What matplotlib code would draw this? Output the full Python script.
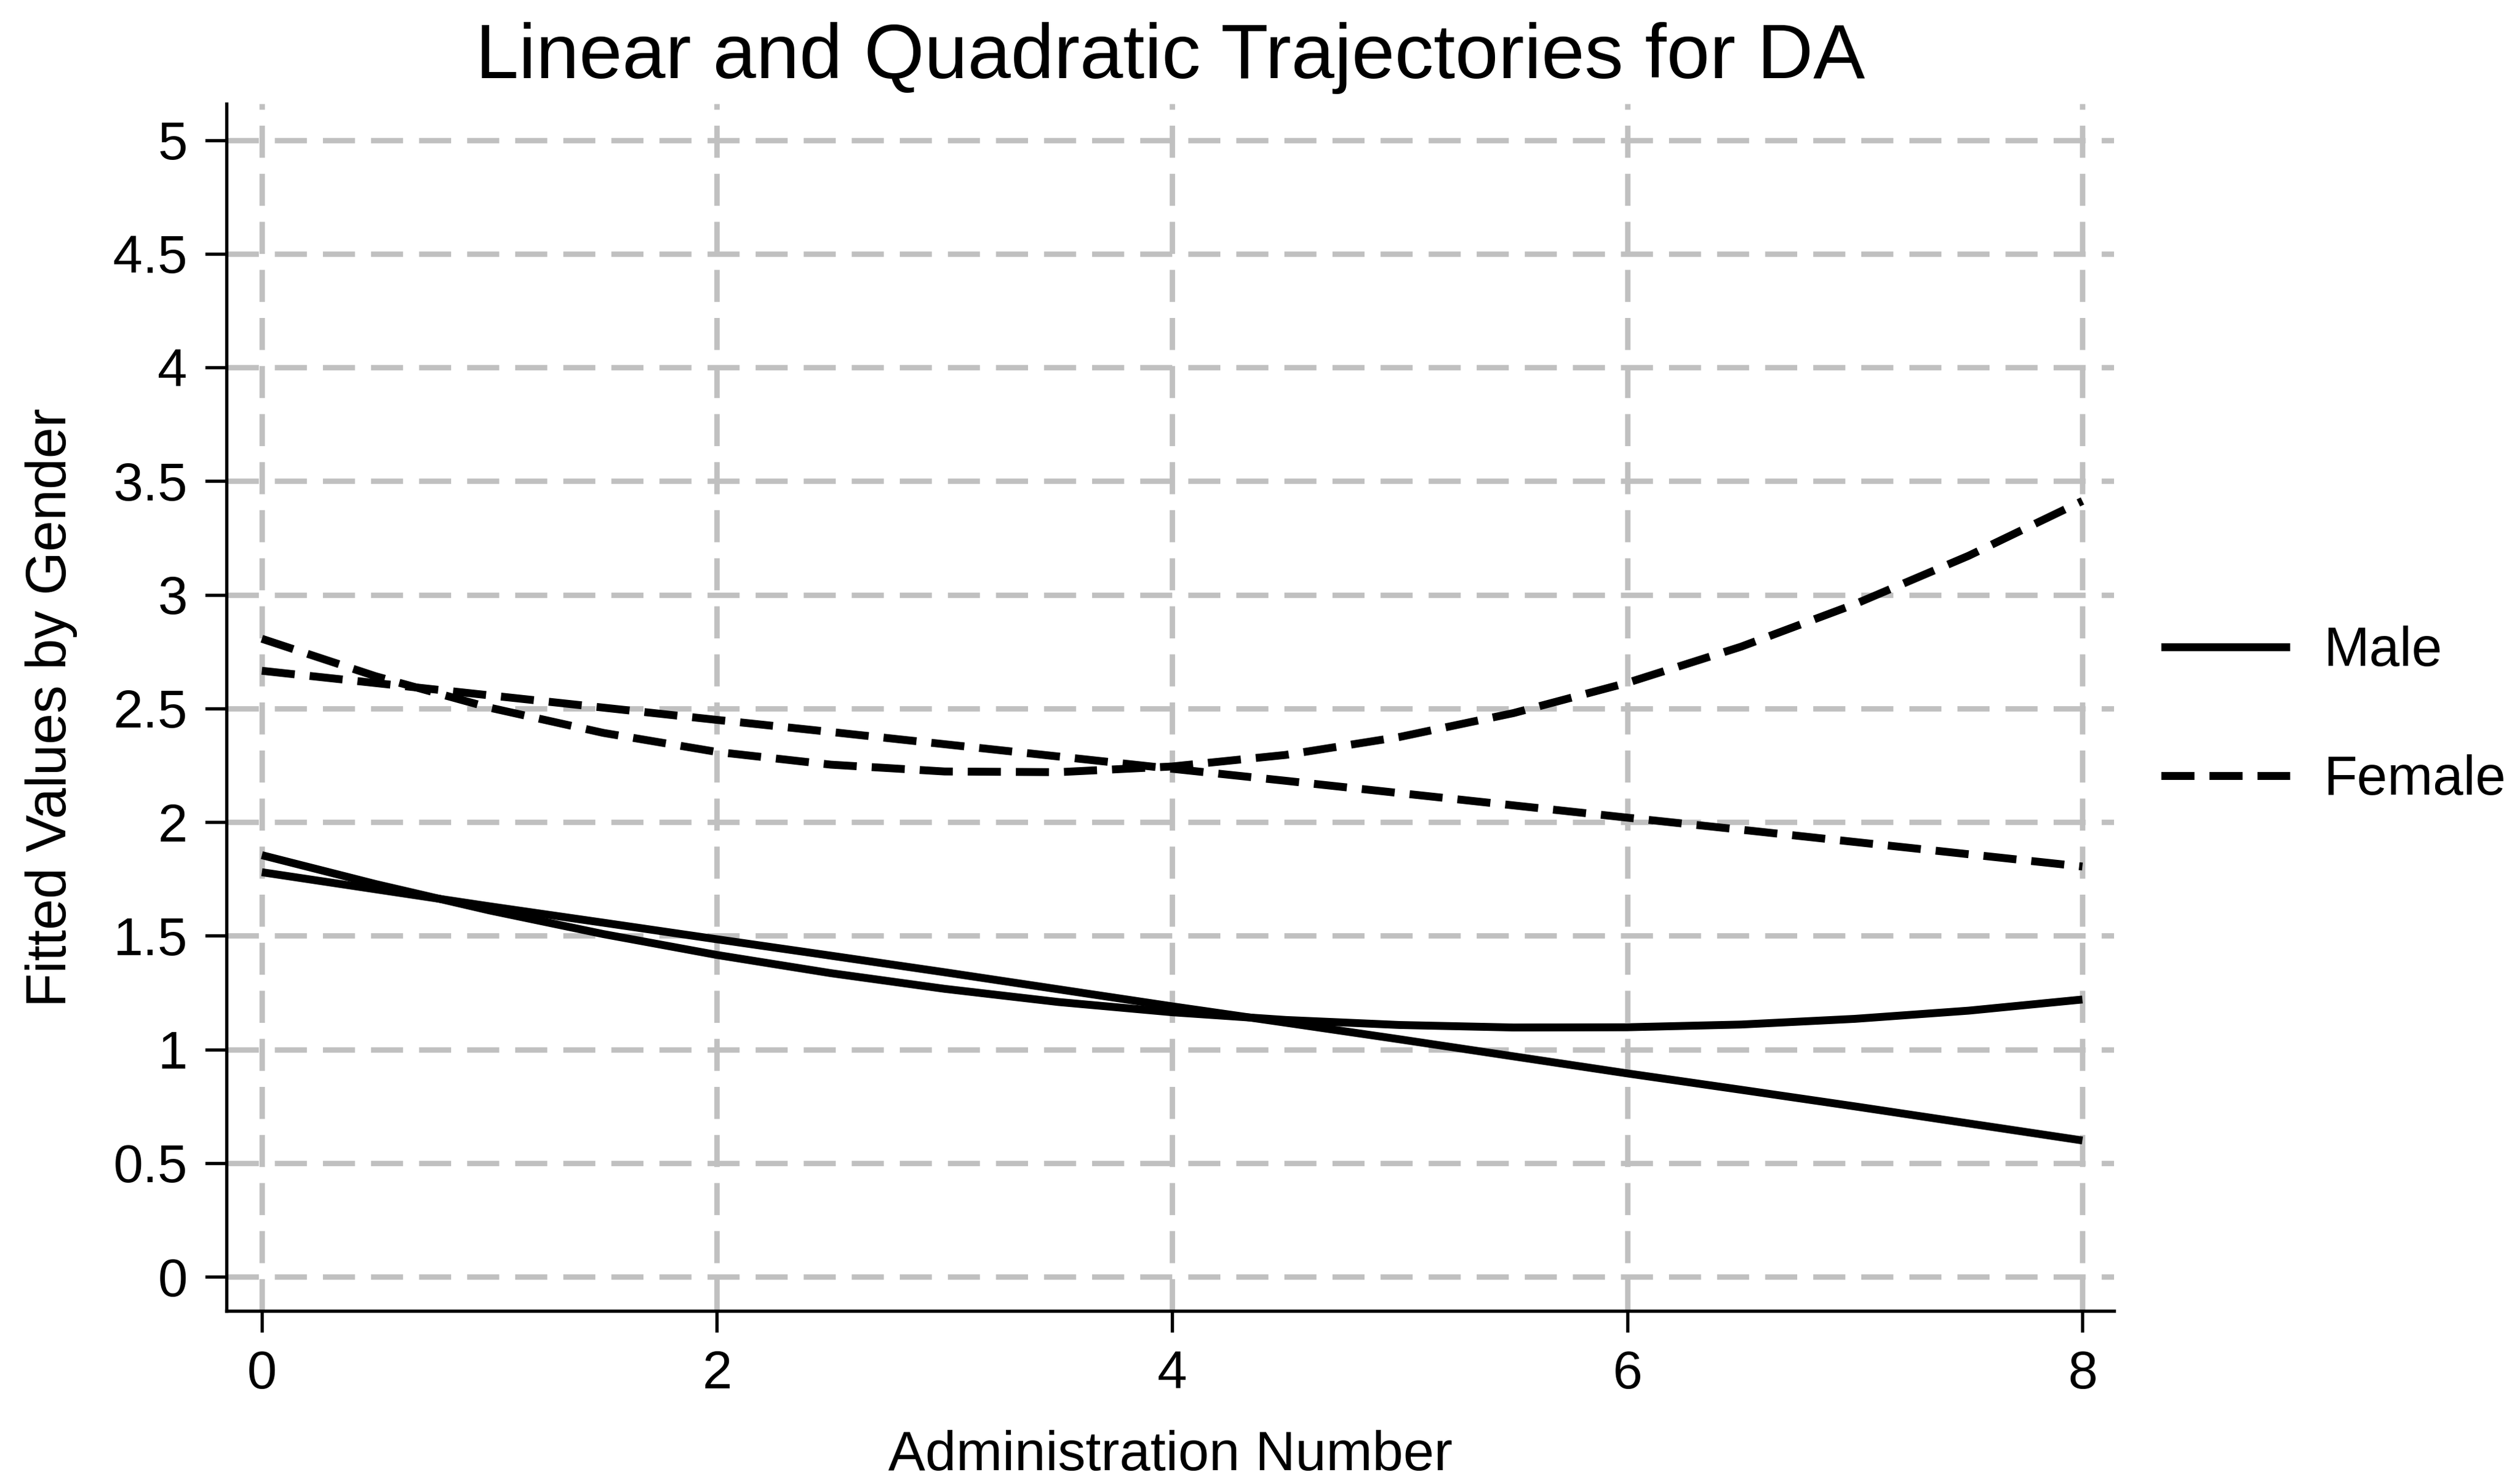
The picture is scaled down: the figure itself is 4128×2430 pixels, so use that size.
import matplotlib
matplotlib.use("Agg")
import matplotlib.pyplot as plt
from matplotlib.lines import Line2D

plt.rcParams['font.family'] = ['Liberation Sans', 'DejaVu Sans']

# Administration number (x) and fitted values
admin = [0, 0.5, 1, 1.5, 2, 2.5, 3, 3.5, 4, 4.5, 5, 5.5, 6, 6.5, 7, 7.5, 8]

male_linear = [1.78, 1.705, 1.63, 1.558, 1.485, 1.413, 1.34, 1.265, 1.19,
               1.118, 1.045, 0.97, 0.895, 0.823, 0.75, 0.675, 0.60]
male_quad = [1.855, 1.728, 1.612, 1.508, 1.416, 1.336, 1.267, 1.209, 1.164,
             1.130, 1.108, 1.097, 1.098, 1.110, 1.135, 1.171, 1.22]
female_linear = [2.666, 2.612, 2.558, 2.504, 2.45, 2.397, 2.343, 2.289, 2.235,
                 2.182, 2.128, 2.074, 2.02, 1.967, 1.913, 1.859, 1.805]
female_quad = [2.807, 2.642, 2.504, 2.393, 2.309, 2.253, 2.223, 2.220, 2.245,
               2.296, 2.375, 2.480, 2.613, 2.772, 2.959, 3.172, 3.413]

xticks = [0, 2, 4, 6, 8]
yticks = [0, 0.5, 1, 1.5, 2, 2.5, 3, 3.5, 4, 4.5, 5]
ytick_labels = ['0', '0.5', '1', '1.5', '2', '2.5', '3', '3.5', '4', '4.5', '5']
series_labels = ['Male', 'Female']

fig = plt.figure(figsize=(13.76, 8.10), dpi=300)
ax = fig.add_axes([0.0899, 0.116, 0.839 - 0.0899, 0.930 - 0.116])

lw = 3.1
female_dash = (4.2, 1.9)
ax.plot(admin, male_linear, color='black', lw=lw, solid_capstyle='butt', zorder=3)
ax.plot(admin, male_quad, color='black', lw=lw, solid_capstyle='butt', zorder=3)
ax.plot(admin, female_linear, color='black', lw=lw, linestyle=(0, female_dash),
        dash_capstyle='butt', zorder=3)
ax.plot(admin, female_quad, color='black', lw=lw, linestyle=(0, female_dash),
        dash_capstyle='butt', zorder=3)

ax.set_xlim(-0.155, 8.14)
ax.set_ylim(-0.15, 5.16)
ax.set_xticks(xticks)
ax.set_yticks(yticks)
ax.set_yticklabels(ytick_labels)

ax.grid(True, color='#c0c0c0', lw=2.1, linestyle=(0, (6.0, 3.0)), dash_capstyle='butt')
ax.set_axisbelow(True)

for s in ['top', 'right']:
    ax.spines[s].set_visible(False)
for s in ['left', 'bottom']:
    ax.spines[s].set_linewidth(1.3)
    ax.spines[s].set_color('black')

ax.tick_params(axis='both', direction='out', length=8.4, width=1.3, colors='black',
               labelsize=21, pad=7)

ax.set_xlabel('Administration Number', fontsize=21.8, labelpad=12)
ax.set_ylabel('Fitted Values by Gender', fontsize=22, labelpad=14)
ax.set_title('Linear and Quadratic Trajectories for DA', fontsize=30.5, pad=10)

handles = [Line2D([0], [0], color='black', lw=lw, solid_capstyle='butt'),
           Line2D([0], [0], color='black', lw=lw, linestyle=(0, female_dash),
                  dash_capstyle='butt')]
fig.legend(handles, series_labels, loc='center left', bbox_to_anchor=(0.8576, 0.5172),
           frameon=False, fontsize=21.5, handlelength=2.35, handletextpad=0.62,
           labelspacing=1.4, borderpad=0, borderaxespad=0)

fig.savefig('out.png', dpi=300, facecolor='white')
